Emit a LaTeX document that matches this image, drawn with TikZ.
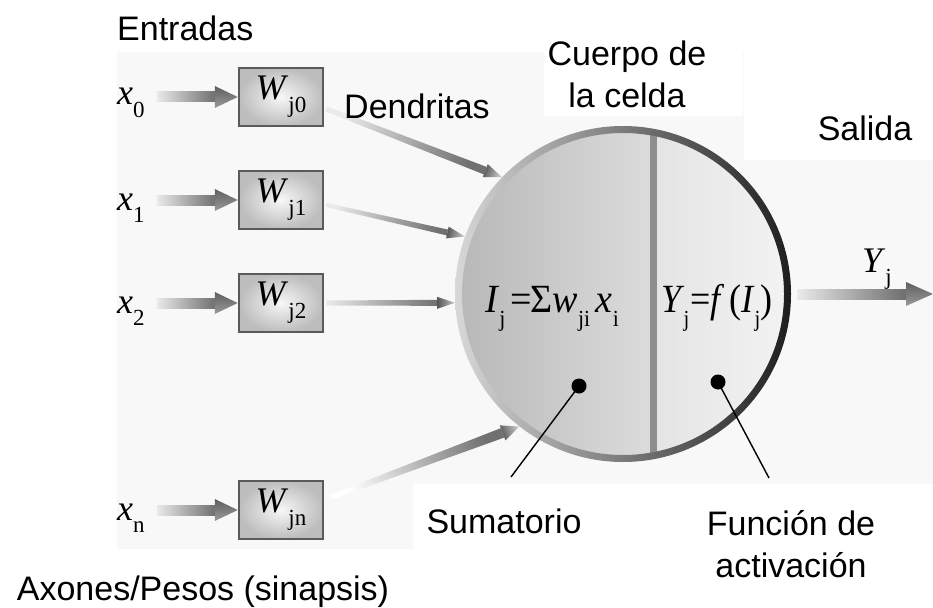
\documentclass[tikz,border=0pt]{standalone}
\usepackage{fontspec}
\setmainfont{Liberation Sans}
\newfontfamily\tms{Liberation Serif}
\usetikzlibrary{calc}
\definecolor{bgc}{HTML}{F8F8F8}
\definecolor{boxedge}{HTML}{5A5A5A}
\definecolor{boxin}{HTML}{F7F7F7}
\definecolor{boxout}{HTML}{BDBDBD}
\definecolor{shaftL}{HTML}{EAEAEA}
\definecolor{shaftR}{HTML}{6A6A6A}
\definecolor{headT}{HTML}{5F5F5F}
\definecolor{headB}{HTML}{9A9A9A}
\definecolor{dendR}{HTML}{707070}
\definecolor{headD}{HTML}{555555}
\definecolor{headLt}{HTML}{C8C8C8}
\definecolor{somaA}{HTML}{B6B6B6}
\definecolor{somaB}{HTML}{DCDCDC}
\definecolor{somaC}{HTML}{E4E4E4}
\definecolor{somaD}{HTML}{F4F4F4}
\definecolor{rimL}{HTML}{D8D8D8}
\definecolor{rimM}{HTML}{8C8C8C}
\definecolor{rimR}{HTML}{1E1E1E}
\definecolor{divc}{HTML}{8E8E8E}
\newcommand\mth{\tms\fontsize{36}{40}\selectfont}
\newcommand\fml{\tms\fontsize{40}{44}\selectfont}
\newcommand\vi[1]{\textit{#1}}
\newcommand\lsub[1]{\raisebox{-0.36em}{\fontsize{23}{23}\selectfont #1}}
\newcommand\inarrow[2]{%
  \coordinate (ia) at ($(#1.east |- #2.west)+(12,0)$);
  \coordinate (ib) at (#2.west);
  \shade[left color=shaftL, right color=shaftR] ($(ia)+(0,-5)$) rectangle ($(ib)+(-20,5)$);
  \shade[top color=headT, bottom color=headB] ($(ib)+(-23,-11)$) -- (ib) -- ($(ib)+(-23,11)$) -- cycle;
}
\newcommand\dendrite[5]{%
  \coordinate (ds) at (#1);
  \coordinate (de) at (#2);
  \coordinate (dm) at ($(de)!18pt!(ds)$);
  \path let \p1=($(de)-(ds)$) in \pgfextra{\pgfmathsetmacro\dang{atan2(\y1,\x1)+90}\xdef\dangle{\dang}};
  \shade[left color=#5, right color=dendR, shading angle=\dangle]
    ($(ds)!#3!90:(de)$) -- ($(ds)!#3!-90:(de)$) -- ($(dm)!#4!-90:(de)$) -- ($(dm)!#4!90:(de)$) -- cycle;
  \shade[left color=headD, right color=headLt, shading angle=\dangle]
    ($(dm)!#4+3pt!90:(de)$) -- (de) -- ($(dm)!#4+3pt!-90:(de)$) -- cycle;
}
\tikzset{
  lbl/.style={font=\fontsize{34}{42}\selectfont, align=center, inner sep=0pt},
  wbox/.style={draw=boxedge, line width=2.5pt, inner color=boxin, outer color=boxout,
    minimum width=84pt, minimum height=58pt, inner sep=0pt, font=\mth},
  xlbl/.style={inner sep=0pt, font=\mth},
  fmlst/.style={inner sep=0pt, font=\fml},
  dotst/.style={circle, fill=black, minimum size=15pt, inner sep=0pt},
  ptr/.style={draw=black, line width=1.4pt},
}
\begin{document}
\begin{tikzpicture}[x=1pt,y=-1pt]
\useasboundingbox (0,0) rectangle (933,607);
\fill[white] (0,0) rectangle (933,607);
\fill[bgc] (117,52) rectangle (933,484);
\fill[bgc] (117,484) rectangle (413,549);
\fill[white] (544,28) rectangle (743,116);
\fill[white] (744,0) rectangle (933,160);

% cell body
\node[circle, minimum size=336pt, inner sep=0pt] (soma) at (623,294) {};
\begin{scope}
  \clip (soma.center) circle (165pt);
  \shade[left color=somaA, right color=somaB] (450,120) rectangle (653,470);
  \shade[left color=somaC, right color=somaD] (653,120) rectangle (800,470);
  \fill[divc] (650,120) rectangle (657,470);
\end{scope}
\shade[even odd rule, left color=rimL, middle color=rimM, right color=rimR]
  (soma.center) circle (168pt) (soma.center) circle (161pt);

% weights
\node[wbox] (w0) at (281,97) {\vi{W}\lsub{j0}};
\node[wbox] (w1) at (281,200) {\vi{W}\lsub{j1}};
\node[wbox] (w2) at (281,303) {\vi{W}\lsub{j2}};
\node[wbox] (wn) at (281,510) {\vi{W}\lsub{jn}};

% inputs
\node[xlbl, anchor=base west] (x0) at (117,105) {\vi{x}\lsub{0}};
\node[xlbl, anchor=base west] (x1) at (117,210) {\vi{x}\lsub{1}};
\node[xlbl, anchor=base west] (x2) at (117,313) {\vi{x}\lsub{2}};
\node[xlbl, anchor=base west] (xn) at (117,520) {\vi{x}\lsub{n}};
\inarrow{x0}{w0}
\inarrow{x1}{w1}
\inarrow{x2}{w2}
\inarrow{xn}{wn}

% dendrites
\dendrite{$(w0.east)+(2,12)$}{soma.136}{2.5pt}{4pt}{shaftL}
\dendrite{$(w1.east)+(2,5)$}{soma.160}{2pt}{3pt}{shaftL}
\dendrite{$(w2.east)+(2,0)$}{soma.183}{2.5pt}{3pt}{shaftL}
\dendrite{$(wn.east)+(7,-13)$}{soma.232}{2.5pt}{5pt}{white}

% formulas
\node[fmlst, anchor=base west] (sumf) at (485,312)
  {\scalebox{0.95}[1]{\vi{I}\lsub{j}\kern5pt=\kern-1ptΣ\vi{w}\lsub{ji}\kern6pt\vi{x}\lsub{i}}};
\node[fmlst, anchor=base west] (actf) at (661,312)
  {\scalebox{0.9}[1]{\vi{Y}\kern-1pt\lsub{j}\kern1pt=\vi{f}\kern5pt(\vi{I}\lsub{j})}};

% output
\coordinate (yout) at (933,294);
\coordinate (ystart) at ($(soma.east)+(6,0)$);
\shade[left color=shaftL, right color=shaftR] ($(ystart)+(0,-5)$) rectangle ($(yout)+(-24,5)$);
\shade[top color=headT, bottom color=headB] ($(yout)+(-27,-12)$) -- (yout) -- ($(yout)+(-27,12)$) -- cycle;
\node[xlbl, anchor=base west] (ylbl) at (862,272) {\vi{Y}\lsub{j}};

% pointers
\node[dotst] (dsum) at (579,386) {};
\node[dotst] (dact) at (718,382) {};
\node[lbl, anchor=base] (sum) at (504,533) {Sumatorio};
\node[lbl, anchor=north] (act) at (791,510) {Función de\\activación};
\coordinate (psum) at (511,477);
\coordinate (pact) at (769,478);
\draw[ptr] (dsum.center) -- (psum);
\draw[ptr] (dact.center) -- (pact);

% labels
\node[lbl, anchor=base west] (ent) at (117,41) {Entradas};
\node[lbl, anchor=base west] (den) at (344,118) {Dendritas};
\node[lbl, anchor=north] (cue) at (627,41) {Cuerpo de\\la celda};
\node[lbl, anchor=base] (sal) at (865,140) {Salida};
\node[lbl, anchor=base] (axo) at (203,600) {Axones/Pesos (sinapsis)};
\end{tikzpicture}
\end{document}
